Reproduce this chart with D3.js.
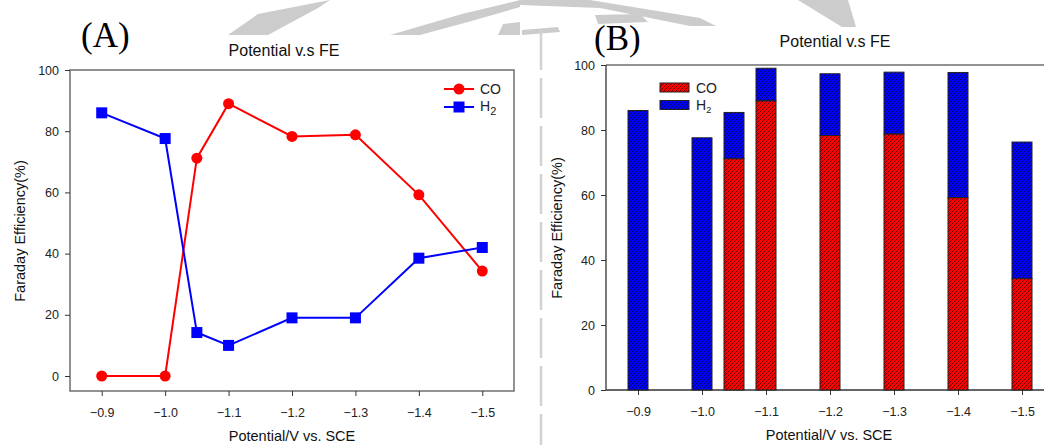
<!DOCTYPE html>
<html>
<head>
<meta charset="utf-8">
<script src="https://cdn.jsdelivr.net/npm/d3@7"></script>
<style>
  body { margin: 0; background: #fff; }
  svg { display: block; font-family: Arial, "Liberation Sans", sans-serif; }
  .tick text { font-size: 12.5px; fill: #222; }
</style>
</head>
<body>
<div id="chart"></div>
<script>
// data
var potentials = [-0.9, -1.0, -1.05, -1.1, -1.2, -1.3, -1.4, -1.5];
var coFE = [0, 0, 71.2, 89.0, 78.3, 78.8, 59.2, 34.3];
var h2FE = [86.0, 77.6, 14.2, 10.0, 19.0, 19.0, 38.5, 42.0];
var xTicks = [-0.9, -1.0, -1.1, -1.2, -1.3, -1.4, -1.5];
var yTicks = [0, 20, 40, 60, 80, 100];

var W = 1044, H = 445;
var svg = d3.select("#chart").append("svg").attr("width", W).attr("height", H);

// hatch patterns for the bars
var defs = svg.append("defs");
function hatch(id, col) {
  var p = defs.append("pattern").attr("id", id)
    .attr("patternUnits", "userSpaceOnUse").attr("width", 4).attr("height", 4);
  p.append("rect").attr("width", 4).attr("height", 4).attr("fill", col);
  p.append("path").attr("d", "M-1,1 l2,-2 M0,4 l4,-4 M3,5 l2,-2")
    .attr("stroke", "#000").attr("stroke-width", 0.6);
}
hatch("hatchRed", "#ff0000");
hatch("hatchBlue", "#0000ff");

// faint watermark behind everything
var wm = svg.append("g").attr("fill", "#cccccc");
wm.append("path").attr("d", "M228,35 L258,14 L330,0 L318,8 L268,35 Z");
wm.append("path").attr("d", "M390,35 L462,14 L520,0 L520,7 L468,22 L420,35 Z");
wm.append("path").attr("d", "M498,35 L503,24 L520,22 L520,35 Z");
wm.append("path").attr("d", "M520,0 L590,0 L700,18 L716,26 L690,26 L600,8 L520,5 Z");
wm.append("path").attr("d", "M798,0 L848,0 L856,27 L842,27 Z");
wm.append("path").attr("d", "M595,15 L640,14 L648,22 L598,24 Z");
wm.append("path").attr("d", "M522,30 L558,27 L560,32 L522,35 Z");
svg.append("line").attr("x1", 541).attr("x2", 541).attr("y1", 30).attr("y2", 445)
  .attr("stroke", "#d2d2d2").attr("stroke-width", 2.5).attr("stroke-dasharray", "40,8");

// ---------- (A) line chart ----------
var xA = d3.scaleLinear().domain([-0.85, -1.55]).range([70, 514]);
var yA = d3.scaleLinear().domain([0, 100]).range([376, 70]);
var gA = svg.append("g");

gA.append("rect").attr("x", 70).attr("y", 70).attr("width", 444).attr("height", 321)
  .attr("fill", "none").attr("stroke", "#6e6e6e").attr("stroke-width", 1.5);

gA.append("g").attr("transform", "translate(0,391)")
  .call(d3.axisBottom(xA).tickValues(xTicks).tickFormat(d3.format(".1f")).tickSize(5).tickPadding(12))
  .call(function(g) { g.select(".domain").remove(); g.selectAll("line").attr("stroke", "#333"); });
gA.append("g").attr("transform", "translate(70,0)")
  .call(d3.axisLeft(yA).tickValues(yTicks).tickSize(5).tickPadding(6))
  .call(function(g) { g.select(".domain").remove(); g.selectAll("line").attr("stroke", "#333"); });

var lineA = d3.line().x(function(d, i) { return xA(potentials[i]); }).y(function(d) { return yA(d); });
gA.append("path").datum(coFE).attr("d", lineA).attr("fill", "none").attr("stroke", "#ff0000").attr("stroke-width", 2);
gA.append("path").datum(h2FE).attr("d", lineA).attr("fill", "none").attr("stroke", "#0000ff").attr("stroke-width", 2);
gA.selectAll(".co").data(coFE).enter().append("circle")
  .attr("cx", function(d, i) { return xA(potentials[i]); }).attr("cy", function(d) { return yA(d); })
  .attr("r", 5.5).attr("fill", "#ff0000");
gA.selectAll(".h2").data(h2FE).enter().append("rect")
  .attr("x", function(d, i) { return xA(potentials[i]) - 5.5; }).attr("y", function(d) { return yA(d) - 5.5; })
  .attr("width", 11).attr("height", 11).attr("fill", "#0000ff");

// legend A
var legA = gA.append("g").attr("transform", "translate(444,89)");
legA.append("line").attr("x1", 0).attr("x2", 30).attr("stroke", "#ff0000").attr("stroke-width", 2);
legA.append("circle").attr("cx", 15).attr("r", 5.5).attr("fill", "#ff0000");
legA.append("text").attr("x", 36).attr("y", 5).attr("font-size", 14).attr("fill", "#222").text("CO");
legA.append("line").attr("x1", 0).attr("x2", 30).attr("y1", 18).attr("y2", 18).attr("stroke", "#0000ff").attr("stroke-width", 2);
legA.append("rect").attr("x", 9.5).attr("y", 12.5).attr("width", 11).attr("height", 11).attr("fill", "#0000ff");
var tA = legA.append("text").attr("x", 36).attr("y", 22).attr("font-size", 14).attr("fill", "#222").text("H");
tA.append("tspan").attr("dy", 4).attr("font-size", 11).text("2");

gA.append("text").attr("x", 284).attr("y", 56).attr("text-anchor", "middle").attr("font-size", 16).attr("fill", "#111").text("Potential v.s FE");
gA.append("text").attr("x", 292).attr("y", 441).attr("text-anchor", "middle").attr("font-size", 14.5).attr("fill", "#111").text("Potential/V vs. SCE");
gA.append("text").attr("transform", "translate(25,231) rotate(-90)").attr("text-anchor", "middle").attr("font-size", 14.5).attr("fill", "#111").text("Faraday Efficiency(%)");
gA.append("text").attr("x", 81).attr("y", 47).attr("font-family", "'Times New Roman', 'Liberation Serif', serif").attr("font-size", 35).attr("fill", "#000").text("(A)");

// ---------- (B) stacked bar chart ----------
var xB = d3.scaleLinear().domain([-0.85, -1.55]).range([606, 1054]);
var yB = d3.scaleLinear().domain([0, 100]).range([390, 65]);
var gB = svg.append("g");
var barW = 20;

gB.append("line").attr("x1", 606).attr("x2", 1044).attr("y1", 65).attr("y2", 65).attr("stroke", "#6e6e6e").attr("stroke-width", 1.5);
gB.append("g").attr("transform", "translate(0,390)")
  .call(d3.axisBottom(xB).tickValues(xTicks).tickFormat(d3.format(".1f")).tickSize(5).tickPadding(12))
  .call(function(g) { g.select(".domain").attr("d", "M606,0H1044").attr("stroke", "#333").attr("stroke-width", 1.3); g.selectAll("line").attr("stroke", "#333"); });
gB.append("g").attr("transform", "translate(606,0)")
  .call(d3.axisLeft(yB).tickValues(yTicks).tickSize(5).tickPadding(6))
  .call(function(g) { g.select(".domain").attr("stroke", "#333").attr("stroke-width", 1.3).attr("d", "M0,65V390"); g.selectAll("line").attr("stroke", "#333"); });

gB.selectAll(".barCO").data(coFE).enter().append("rect")
  .attr("x", function(d, i) { return xB(potentials[i]) - barW / 2; })
  .attr("y", function(d) { return yB(d); })
  .attr("width", barW).attr("height", function(d) { return yB(0) - yB(d); })
  .attr("fill", "url(#hatchRed)").attr("stroke", "#222").attr("stroke-width", 1)
  .style("display", function(d) { return d > 0 ? null : "none"; });
gB.selectAll(".barH2").data(h2FE).enter().append("rect")
  .attr("x", function(d, i) { return xB(potentials[i]) - barW / 2; })
  .attr("y", function(d, i) { return yB(d + coFE[i]); })
  .attr("width", barW).attr("height", function(d) { return yB(0) - yB(d); })
  .attr("fill", "url(#hatchBlue)").attr("stroke", "#222").attr("stroke-width", 1);

// legend B
var legB = gB.append("g").attr("transform", "translate(660,83)");
legB.append("rect").attr("width", 29).attr("height", 9).attr("fill", "url(#hatchRed)").attr("stroke", "#222");
legB.append("text").attr("x", 36).attr("y", 10).attr("font-size", 14).attr("fill", "#222").text("CO");
legB.append("rect").attr("y", 17.5).attr("width", 29).attr("height", 9).attr("fill", "url(#hatchBlue)").attr("stroke", "#222");
var tB = legB.append("text").attr("x", 36).attr("y", 27).attr("font-size", 14).attr("fill", "#222").text("H");
tB.append("tspan").attr("dy", 3).attr("font-size", 9).text("2");

gB.append("text").attr("x", 835).attr("y", 47).attr("text-anchor", "middle").attr("font-size", 16).attr("fill", "#111").text("Potential v.s FE");
gB.append("text").attr("x", 829).attr("y", 440).attr("text-anchor", "middle").attr("font-size", 14.5).attr("fill", "#111").text("Potential/V vs. SCE");
gB.append("text").attr("transform", "translate(562,228) rotate(-90)").attr("text-anchor", "middle").attr("font-size", 14.5).attr("fill", "#111").text("Faraday Efficiency(%)");
gB.append("text").attr("x", 594).attr("y", 50).attr("font-family", "'Times New Roman', 'Liberation Serif', serif").attr("font-size", 35).attr("fill", "#000").text("(B)");
</script>
</body>
</html>
